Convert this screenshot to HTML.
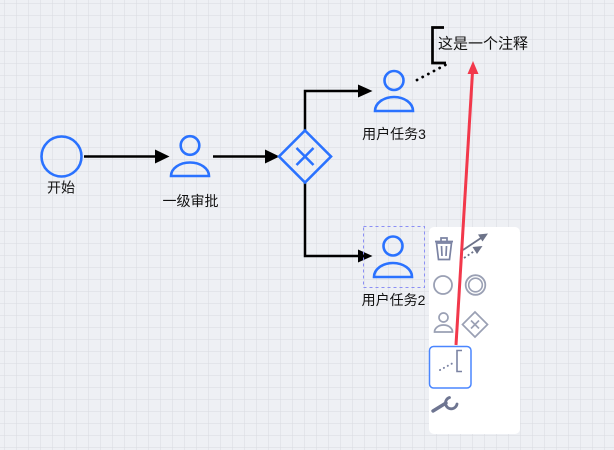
<!DOCTYPE html>
<html><head><meta charset="utf-8">
<style>
html,body{margin:0;padding:0;width:614px;height:450px;overflow:hidden;background:#eef0f4;}
svg{display:block;}
text{font-family:"Liberation Sans","Noto Sans CJK SC",sans-serif;}
</style></head>
<body>
<svg width="614" height="450" viewBox="0 0 614 450" xmlns="http://www.w3.org/2000/svg">
<defs>
<pattern id="g" x="4.5" y="3" width="12" height="12" patternUnits="userSpaceOnUse">
<path d="M0 0 H12 M0 0 V12" stroke="#d8dae0" stroke-width="1" fill="none"/>
</pattern>
</defs>
<rect width="614" height="450" fill="#eef0f4"/>
<rect width="614" height="450" fill="url(#g)"/>

<!-- edges -->
<g stroke="#000" stroke-width="2.5" fill="none">
<line x1="84" y1="156.5" x2="156" y2="156.5"/>
<line x1="213" y1="156.5" x2="266" y2="156.5"/>
<polyline points="305,130 305,91 359,91"/>
<polyline points="305,182 305,256 359,256"/>
</g>
<g fill="#000">
<polygon points="155,149.5 169.5,156.5 155,163.5"/>
<polygon points="265,149.5 279.5,156.5 265,163.5"/>
<polygon points="358,84.5 372.5,91 358,97.5"/>
<polygon points="358,249.5 372.5,256 358,262.5"/>
</g>

<!-- start -->
<circle cx="61.5" cy="156.5" r="20" fill="none" stroke="#2a72ff" stroke-width="2.6"/>
<text x="61" y="187.5" font-size="14" text-anchor="middle" dominant-baseline="central" fill="#111">开始</text>

<!-- task 1 -->
<g stroke="#2a72ff" stroke-width="2.6" fill="none">
<circle cx="190" cy="145.5" r="9.3"/>
<path d="M171 176 A19 13.5 0 0 1 209 176 Z"/>
</g>
<text x="190.5" y="201" font-size="14" text-anchor="middle" dominant-baseline="central" fill="#111">一级审批</text>

<!-- gateway -->
<g stroke="#2a72ff" stroke-width="2.6" fill="none">
<polygon points="305,130.5 331,156.5 305,182.5 279,156.5"/>
<line x1="296.5" y1="148" x2="313.5" y2="165"/>
<line x1="313.5" y1="148" x2="296.5" y2="165"/>
</g>

<!-- task 3 -->
<g stroke="#2a72ff" stroke-width="2.6" fill="none">
<circle cx="394" cy="80.5" r="9.5"/>
<path d="M375 111 A19 14 0 0 1 413 111 Z"/>
</g>
<text x="394" y="134" font-size="14" text-anchor="middle" dominant-baseline="central" fill="#111">用户任务3</text>

<!-- task 2 -->
<rect x="363.5" y="226.5" width="61" height="61" fill="none" stroke="#8b8ff5" stroke-width="1" stroke-dasharray="3 3"/>
<g stroke="#2a72ff" stroke-width="2.6" fill="none">
<circle cx="393" cy="246" r="9.5"/>
<path d="M374 277 A19 14 0 0 1 412 277 Z"/>
</g>
<text x="393.5" y="300" font-size="14" text-anchor="middle" dominant-baseline="central" fill="#111">用户任务2</text>

<!-- annotation -->
<line x1="417" y1="80" x2="449" y2="63" stroke="#000" stroke-width="2.8" stroke-dasharray="0.1 6.3" stroke-linecap="round"/>
<path d="M444 27.5 L432.5 27.5 L432.5 63 L446 63" fill="none" stroke="#000" stroke-width="2.7"/>
<text x="438" y="44" font-size="15" dominant-baseline="central" fill="#111">这是一个注释</text>

<!-- context panel -->
<rect x="429" y="227" width="91" height="207" rx="5" fill="#fff"/>
<!-- trash -->
<g stroke="#7b83a3" stroke-width="1.7" fill="none">
<path d="M435 241.5 H453"/>
<path d="M441 241 V238 H447 V241"/>
<path d="M436.5 243 L438.5 259.5 H449.5 L451.5 243 Z"/>
<path d="M441.5 246 L442 256 M446.5 246 L446 256"/>
</g>
<!-- connect icon -->
<g stroke="#6d7389" stroke-width="1.8" fill="#6d7389">
<line x1="463" y1="250" x2="481" y2="238" />
<polygon points="488,233.5 478,234.5 482.5,241.5" stroke="none"/>
<line x1="464" y1="258" x2="476" y2="250" stroke-dasharray="2 2.5"/>
<polygon points="482.5,246 472.5,247 477,254" stroke="none"/>
</g>
<!-- circles -->
<circle cx="443" cy="285" r="9" fill="none" stroke="#9aa0b4" stroke-width="1.8"/>
<circle cx="475.5" cy="285" r="9.8" fill="none" stroke="#9aa0b4" stroke-width="1.8"/>
<circle cx="475.5" cy="285" r="6.8" fill="none" stroke="#9aa0b4" stroke-width="1.6"/>
<!-- user icon -->
<g stroke="#9aa0b4" stroke-width="1.7" fill="none">
<circle cx="443.5" cy="317.5" r="4.5"/>
<path d="M434.5 332 A9 7 0 0 1 452.5 332 Z"/>
</g>
<!-- gateway icon -->
<g stroke="#9aa0b4" stroke-width="1.7" fill="none">
<polygon points="475,312 487.5,324.5 475,337 462.5,324.5"/>
<line x1="471" y1="320.5" x2="479" y2="328.5"/>
<line x1="479" y1="320.5" x2="471" y2="328.5"/>
</g>
<!-- selected annotation tool -->
<rect x="429.5" y="346.5" width="41.5" height="41.5" rx="4" fill="#fff" stroke="#4a86ff" stroke-width="1.5"/>
<line x1="440" y1="370" x2="453" y2="363" stroke="#7b83a3" stroke-width="2" stroke-dasharray="0.1 4.3" stroke-linecap="round"/>
<path d="M462 350.5 H457 V371.5 H462" fill="none" stroke="#7b83a3" stroke-width="1.6"/>
<!-- wrench -->
<g fill="none" stroke="#6e7591" stroke-linecap="round">
<line x1="433" y1="411" x2="446" y2="403" stroke-width="3.4"/>
<path d="M449.5 397.5 A5.8 5.8 0 1 0 457 404" stroke-width="2.8"/>
</g>

<!-- red arrow -->
<line x1="456" y1="345" x2="472.5" y2="72" stroke="#f2384b" stroke-width="3"/>
<polygon points="473,61 467.5,74 478.5,74" fill="#f2384b"/>
</svg>
</body></html>
